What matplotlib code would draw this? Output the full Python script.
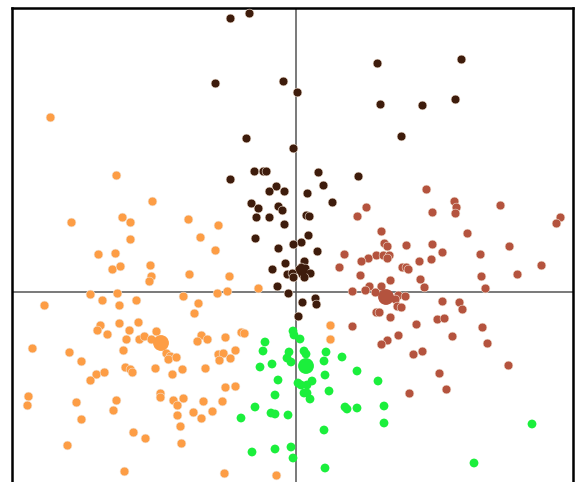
import matplotlib
matplotlib.use("Agg")
import matplotlib.pyplot as plt
import numpy as np

# --- data (scores on the two axes) ---
# dark brown group (upper middle)
dark_x = [-0.66, -0.47, -0.81, -0.13, 0.01, 0.81, 1.65, 0.84, 1.26, 1.59, 1.05, -0.50, -0.03,
          -0.66, -0.42, -0.33, -0.30, 0.22, 0.62, 0.27, -0.20, -0.27, -0.12, 0.11, 0.36, -0.45,
          -0.38, -0.18, -0.14, -0.40, -0.27, 0.10, 0.13, -0.12, -0.41, 0.12, -0.18, 0.05, -0.03,
          0.21, -0.11, 0.08, 0.05, 0.07, 0.03, 0.09, 0.06, 0.14, 0.08, -0.24, -0.09, -0.04, -0.03,
          -0.19, -0.08, 0.06, 0.19, 0.20, 0.02]
dark_y = [2.74, 2.79, 2.09, 2.11, 2.00, 2.29, 2.33, 1.88, 1.87, 1.93, 1.56, 1.54, 1.44,
          1.13, 1.21, 1.21, 1.21, 1.20, 1.16, 1.07, 1.06, 1.01, 1.01, 0.99, 0.90, 0.89,
          0.84, 0.86, 0.82, 0.75, 0.75, 0.77, 0.76, 0.68, 0.54, 0.57, 0.44, 0.50, 0.48,
          0.41, 0.29, 0.31, 0.25, 0.21, 0.23, 0.24, 0.18, 0.19, 0.15, 0.23, 0.18, 0.19, 0.15,
          0.06, -0.01, -0.10, -0.06, -0.12, -0.24]

# red-brown group (right)
red_x = [1.30, 1.58, 1.60, 1.59, 2.04, 0.70, 0.61, 1.36, 2.64, 2.60, 0.85, 1.71, 0.88, 0.91,
         1.10, 1.36, 2.13, 0.48, 1.46, 1.84, 0.80, 0.87, 0.93, 0.91, 0.72, 0.65, 1.23, 1.35,
         2.45, 0.43, 1.06, 1.10, 1.12, 2.21, 0.64, 1.85, 0.94, 1.24, 0.85, 0.73, 0.69, 1.28,
         1.89, 0.56, 0.79, 1.02, 1.09, 0.99, 1.46, 1.63, 1.66, 0.80, 0.83, 1.01, 1.05, 0.94,
         1.41, 1.48, 0.56, 1.20, 1.86, 1.02, 1.56, 0.91, 0.85, 1.91, 1.26, 1.17, 2.12, 1.43,
         1.50, 1.13]
red_y = [1.03, 0.91, 0.85, 0.79, 0.87, 0.85, 0.76, 0.80, 0.75, 0.69, 0.61, 0.59, 0.49, 0.46,
         0.47, 0.48, 0.46, 0.38, 0.40, 0.38, 0.37, 0.37, 0.37, 0.34, 0.34, 0.31, 0.31, 0.33,
         0.27, 0.25, 0.25, 0.25, 0.23, 0.18, 0.17, 0.16, 0.12, 0.13, 0.06, 0.06, 0.02, 0.05,
         0.04, 0.01, 0.00, -0.03, -0.04, -0.07, -0.09, -0.10, -0.17, -0.20, -0.20, -0.14, -0.15, -0.25,
         -0.27, -0.26, -0.34, -0.32, -0.35, -0.43, -0.44, -0.48, -0.52, -0.51, -0.59, -0.62, -0.73, -0.81,
         -0.97, -1.01]

# green group (lower middle)
green_x = [-0.03, -0.02, 0.04, -0.31, -0.33, -0.07, 0.08, 0.10, 0.30, -0.09, -0.05, 0.46, 0.28,
           -0.24, -0.36, 0.61, 0.29, -0.18, 0.02, 0.05, 0.11, 0.16, 0.82, 0.08, 0.11, 0.14, 0.33,
           -0.21, -0.41, 0.49, 0.51, 0.61, -0.25, -0.21, -0.08, 0.88, -0.55, 0.88, 0.28, -0.44,
           -0.21, -0.05, -0.03, 0.29, 2.36, 1.78]
green_y = [-0.39, -0.43, -0.47, -0.50, -0.59, -0.60, -0.59, -0.62, -0.60, -0.66, -0.70, -0.65, -0.69,
           -0.72, -0.75, -0.79, -0.83, -0.88, -0.91, -0.93, -0.93, -0.89, -0.89, -1.01, -1.01, -1.07, -0.99,
           -1.03, -1.15, -1.15, -1.17, -1.16, -1.21, -1.22, -1.23, -1.14, -1.26, -1.31, -1.38, -1.60,
           -1.57, -1.55, -1.66, -1.76, -1.32, -1.71]

# orange group (left)
orange_x = [-2.46, -1.80, -1.44, -2.25, -1.74, -1.66, -1.08, -0.78, -1.66, -0.96, -0.81, -1.98, -1.81,
            -1.84, -1.76, -1.46, -1.45, -1.47, -1.07, -0.67, -2.06, -1.79, -1.94, -1.60, -1.13, -0.79,
            -0.69, -0.38, -2.52, -1.77, -0.98, -1.02, -1.58, -1.96, -1.99, -1.89, -1.77, -1.67, -1.40,
            -1.70, -1.57, -1.52, -1.45, -0.95, -0.99, -0.89, -0.71, -0.55, -0.52, -2.64, -2.27, -1.73,
            -1.30, -1.26, -1.28, -1.20, -0.78, -0.73, -0.77, -0.61, -0.66, -2.15, -1.71, -1.66, -1.64,
            -1.41, -1.14, -2.00, -1.92, -2.06, -1.24, -0.91, -2.68, -2.69, -2.20, -1.80, -1.83, -1.36,
            -1.36, -1.23, -1.19, -1.13, -0.93, -0.74, -1.03, -0.84, -0.95, -1.19, -2.15, -0.71, -0.61,
            -1.16, -1.63, -1.51, -1.15, -2.29, -1.72, -0.72, -0.20, 0.34, 0.34]
orange_y = [1.75, 1.17, 0.91, 0.70, 0.75, 0.70, 0.73, 0.67, 0.53, 0.55, 0.42, 0.38, 0.39,
            0.23, 0.26, 0.27, 0.16, 0.11, 0.18, 0.16, -0.02, -0.01, -0.08, -0.08, -0.04, -0.01,
            0.01, 0.04, -0.13, -0.13, -0.11, -0.21, -0.30, -0.33, -0.38, -0.42, -0.31, -0.38, -0.39,
            -0.47, -0.47, -0.44, -0.47, -0.43, -0.49, -0.47, -0.45, -0.40, -0.41, -0.56, -0.60, -0.58,
            -0.61, -0.64, -0.67, -0.65, -0.62, -0.61, -0.68, -0.58, -0.66, -0.69, -0.75, -0.77, -0.80,
            -0.76, -0.77, -0.82, -0.80, -0.88, -0.82, -0.76, -1.04, -1.13, -1.10, -1.08, -1.18, -1.01,
            -1.05, -1.08, -1.13, -1.06, -1.09, -1.09, -1.20, -1.19, -1.26, -1.23, -1.27, -0.95, -0.94,
            -1.34, -1.40, -1.46, -1.51, -1.53, -1.79, -1.81, -1.83, -0.33, -0.47]

# group centres (big dots)
centre_x = [-1.35, 0.06, 0.90, 0.10]
centre_y = [-0.51, 0.22, -0.05, -0.74]
centre_s = [130, 70, 130, 130]

c_orange = "#fd9d45"
c_dark = "#3e1c0c"
c_red = "#b4533e"
c_green = "#1bef3c"
centre_cols = [c_orange, c_dark, c_red, c_green]

#------------------------------------------------------------------
fig = plt.figure(figsize=(5.81, 4.82), dpi=100)
ax = fig.add_axes([12/581, -8/482, 561/581, 1.0])

# kruseniskas asis caur nulli
ax.axhline(0, color="#555555", lw=1.1, zorder=1)
ax.axvline(0, color="#555555", lw=1.1, zorder=1)

kw = dict(s=40, edgecolors="#f3e4d6", linewidths=0.4, zorder=3)
ax.scatter(orange_x, orange_y, c=c_orange, **kw)
ax.scatter(dark_x, dark_y, c=c_dark, **kw)
ax.scatter(red_x, red_y, c=c_red, **kw)
ax.scatter(green_x, green_y, c=c_green, s=40, edgecolors="none", zorder=3)
ax.scatter(centre_x, centre_y, c=centre_cols, s=centre_s, edgecolors="none", zorder=4)

ax.set_xlim(-2.84, 2.77)
ax.set_ylim(-1.98, 2.84)
ax.set_xticks([])
ax.set_yticks([])
for side in ["left", "right", "top"]:
    ax.spines[side].set_linewidth(1.8)
    ax.spines[side].set_color("black")
ax.spines["bottom"].set_visible(False)

fig.savefig("out.png", dpi=100)
